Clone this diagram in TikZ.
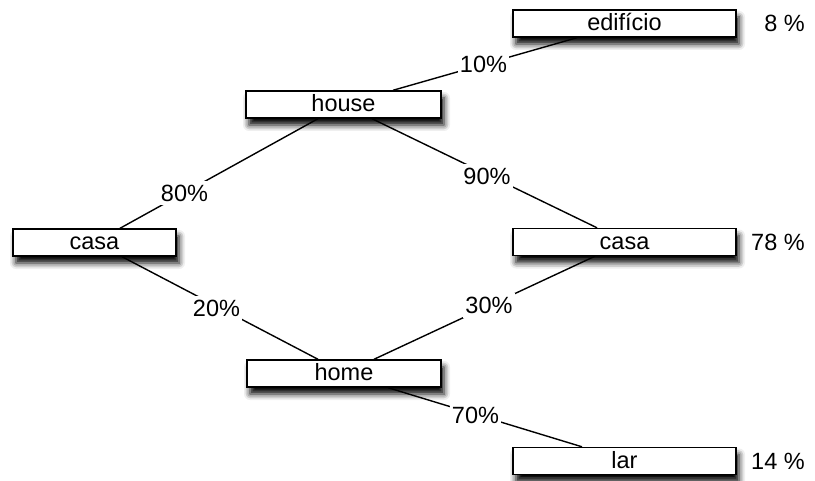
\documentclass[tikz,border=0pt]{standalone}
\usepackage{fontspec}
\setmainfont{Liberation Sans}
\usetikzlibrary{shadows.blur}
\begin{document}
\begin{tikzpicture}[x=1pt,y=-1pt,
  every node/.style={font=\fontsize{23.5}{28}\selectfont},
  wordbox/.style={draw=black, line width=1.4pt, fill=white, minimum height=27pt,
    inner sep=0pt, text height=19pt, text depth=4pt, anchor=center,
    blur shadow={shadow xshift=3pt, shadow yshift=-7pt, shadow blur radius=6pt, shadow opacity=100}},
  conn/.style={line width=1.4pt},
  pct/.style={fill=white, inner xsep=2pt, inner ysep=4pt},
  share/.style={anchor=east, inner sep=0pt}]
\useasboundingbox (0,0) rectangle (815,481);
% boxes
\node[wordbox, minimum width=223pt] (edif)  at (624.5,23.5) {edifício};
\node[wordbox, minimum width=195pt] (house) at (343.5,104.5) {house};
\node[wordbox, minimum width=163pt] (casaL) at (94.5,242.5) {casa};
\node[wordbox, minimum width=223pt] (casaR) at (624.5,242) {casa};
\node[wordbox, minimum width=194pt] (home)  at (344,373.5) {home};
\node[wordbox, minimum width=223pt] (lar)   at (624.5,461) {lar};
% connectors
\draw[conn] ([xshift=49.5pt]house.north) -- ([xshift=-47.5pt]edif.south);
\draw[conn] ([xshift=-25.5pt]house.south) -- ([xshift=25.5pt]casaL.north);
\draw[conn] ([xshift=28.5pt]house.south) -- ([xshift=-27.5pt]casaR.north);
\draw[conn] ([xshift=27.5pt]casaL.south) -- ([xshift=-26pt]home.north);
\draw[conn] ([xshift=-29.5pt]casaR.south) -- ([xshift=30pt]home.north);
\draw[conn] ([xshift=44pt]home.south) -- ([xshift=-42.5pt]lar.north);
% percentage labels
\node[pct] (p10) at (483.5,64.5) {10\%};
\node[pct] (p80) at (184.5,193) {80\%};
\node[pct] (p90) at (487,176) {90\%};
\node[pct] (p20) at (216.5,308.5) {20\%};
\node[pct] (p30) at (489,305.5) {30\%};
\node[pct] (p70) at (475.5,415) {70\%};
% shares
\node[share] (s8)  at (805,23.5) {8 \%};
\node[share] (s78) at (805,242) {78 \%};
\node[share] (s14) at (805,461) {14 \%};
\end{tikzpicture}
\end{document}
